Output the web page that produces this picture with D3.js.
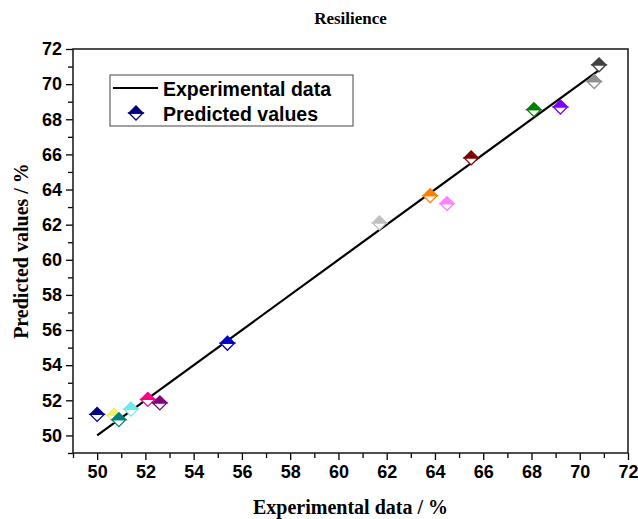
<!DOCTYPE html>
<html>
<head>
<meta charset="utf-8">
<script src="https://cdn.jsdelivr.net/npm/d3@7"></script>
<style>
  html, body { margin: 0; padding: 0; background: #fff; }
  svg { display: block; }
</style>
</head>
<body>
<svg id="chart" width="638" height="519"></svg>
<script>
// Resilience: experimental vs. predicted values (%)
const experimental = [50.0, 50.7, 50.9, 51.4, 52.1, 52.6, 55.4, 61.7, 63.8, 64.5, 65.5, 68.1, 69.2, 70.6, 70.8];
const predicted    = [51.2, 51.15, 50.9, 51.5, 52.05, 51.85, 55.25, 62.1, 63.65, 63.2, 65.8, 68.55, 68.7, 70.15, 71.1];
const pointColors  = ["#000080", "#f2f26a", "#008080", "#6fe8e8", "#ff0080", "#800080", "#0000c8", "#c0c0c0",
                      "#ff8000", "#ff80ff", "#800000", "#008000", "#8000ff", "#909090", "#404040"];
const fitLine      = [50.0, 70.8];
const tickValues   = [50, 52, 54, 56, 58, 60, 62, 64, 66, 68, 70, 72];
const minorTicks   = d3.range(49, 73, 1);

const margin = { left: 73, right: 10, top: 49, bottom: 66 };
const W = 638, H = 519;
const svg = d3.select("#chart");

const x = d3.scaleLinear().domain([49, 72]).range([margin.left, W - margin.right]);
const y = d3.scaleLinear().domain([49, 72]).range([H - margin.bottom, margin.top]);

const sansBold = "'Liberation Sans', Arial, sans-serif";
const serifBold = "'Liberation Serif', 'Times New Roman', serif";

// Title
svg.append("text")
  .attr("x", (x.range()[0] + x.range()[1]) / 2)
  .attr("y", 24)
  .attr("text-anchor", "middle")
  .attr("font-family", serifBold)
  .attr("font-weight", "bold")
  .attr("font-size", 17)
  .text("Resilience");

// Minor ticks (unlabelled)
const minorX = d3.axisBottom(x).tickValues(minorTicks.filter(v => v % 2 !== 0)).tickSize(5).tickFormat("");
const minorY = d3.axisLeft(y).tickValues(minorTicks.filter(v => v % 2 !== 0)).tickSize(5).tickFormat("");
svg.append("g").attr("transform", `translate(0,${y.range()[0]})`).call(minorX)
  .call(g => g.select(".domain").remove())
  .selectAll("line").attr("stroke", "#000").attr("stroke-width", 1.3);
svg.append("g").attr("transform", `translate(${x.range()[0]},0)`).call(minorY)
  .call(g => g.select(".domain").remove())
  .selectAll("line").attr("stroke", "#000").attr("stroke-width", 1.3);

// Major axes
const xAxis = d3.axisBottom(x).tickValues(tickValues).tickSize(7).tickSizeOuter(0).tickPadding(5);
const yAxis = d3.axisLeft(y).tickValues(tickValues).tickSize(7).tickSizeOuter(0).tickPadding(4);

const gx = svg.append("g").attr("transform", `translate(0,${y.range()[0]})`).call(xAxis);
const gy = svg.append("g").attr("transform", `translate(${x.range()[0]},0)`).call(yAxis);
[gx, gy].forEach(g => {
  g.select(".domain").remove();
  g.selectAll("line").attr("stroke", "#000").attr("stroke-width", 1.3);
  g.selectAll("text")
    .attr("font-family", sansBold)
    .attr("font-weight", "bold")
    .attr("font-size", 18)
    .attr("fill", "#000");
});

// Frame
svg.append("rect")
  .attr("x", x.range()[0]).attr("y", y.range()[1])
  .attr("width", x.range()[1] - x.range()[0])
  .attr("height", y.range()[0] - y.range()[1])
  .attr("fill", "none").attr("stroke", "#222").attr("stroke-width", 1.6);

// Axis titles
svg.append("text")
  .attr("x", (x.range()[0] + x.range()[1]) / 2)
  .attr("y", 514)
  .attr("text-anchor", "middle")
  .attr("font-family", serifBold)
  .attr("font-weight", "bold")
  .attr("font-size", 20)
  .text("Experimental data / %");

svg.append("text")
  .attr("transform", `translate(21,${(y.range()[0] + y.range()[1]) / 2}) rotate(-90)`)
  .attr("text-anchor", "middle")
  .attr("dominant-baseline", "central")
  .attr("font-family", serifBold)
  .attr("font-weight", "bold")
  .attr("font-size", 20)
  .text("Predicted values / %");

// Experimental data line (y = x)
svg.append("line")
  .attr("x1", x(fitLine[0])).attr("y1", y(fitLine[0]))
  .attr("x2", x(fitLine[1])).attr("y2", y(fitLine[1]))
  .attr("stroke", "#000").attr("stroke-width", 2.2);

// Half-filled diamond marker: upper half solid, lower half white with coloured outline
const r = 7;
function diamond(g, cx, cy, color) {
  g.append("path")
    .attr("d", `M${cx - r},${cy} L${cx},${cy + r} L${cx + r},${cy} Z`)
    .attr("fill", "#fff").attr("stroke", color).attr("stroke-width", 1.3);
  g.append("path")
    .attr("d", `M${cx - r},${cy} L${cx},${cy - r} L${cx + r},${cy} Z`)
    .attr("fill", color).attr("stroke", color).attr("stroke-width", 1.3);
}

const pts = svg.append("g");
experimental.forEach((e, i) => diamond(pts, x(e), y(predicted[i]), pointColors[i]));

// Legend
const lg = svg.append("g");
lg.append("rect")
  .attr("x", 110).attr("y", 75).attr("width", 243).attr("height", 51)
  .attr("fill", "#fff").attr("stroke", "#444").attr("stroke-width", 1);
lg.append("line")
  .attr("x1", 113).attr("x2", 158).attr("y1", 88).attr("y2", 88)
  .attr("stroke", "#000").attr("stroke-width", 2.2);
lg.append("text")
  .attr("x", 163).attr("y", 89).attr("dominant-baseline", "central")
  .attr("font-family", sansBold).attr("font-weight", "bold").attr("font-size", 19.5)
  .text("Experimental data");
diamond(lg, 136, 113, "#000080");
lg.append("text")
  .attr("x", 163).attr("y", 114).attr("dominant-baseline", "central")
  .attr("font-family", sansBold).attr("font-weight", "bold").attr("font-size", 19.5)
  .text("Predicted values");
</script>
</body>
</html>
